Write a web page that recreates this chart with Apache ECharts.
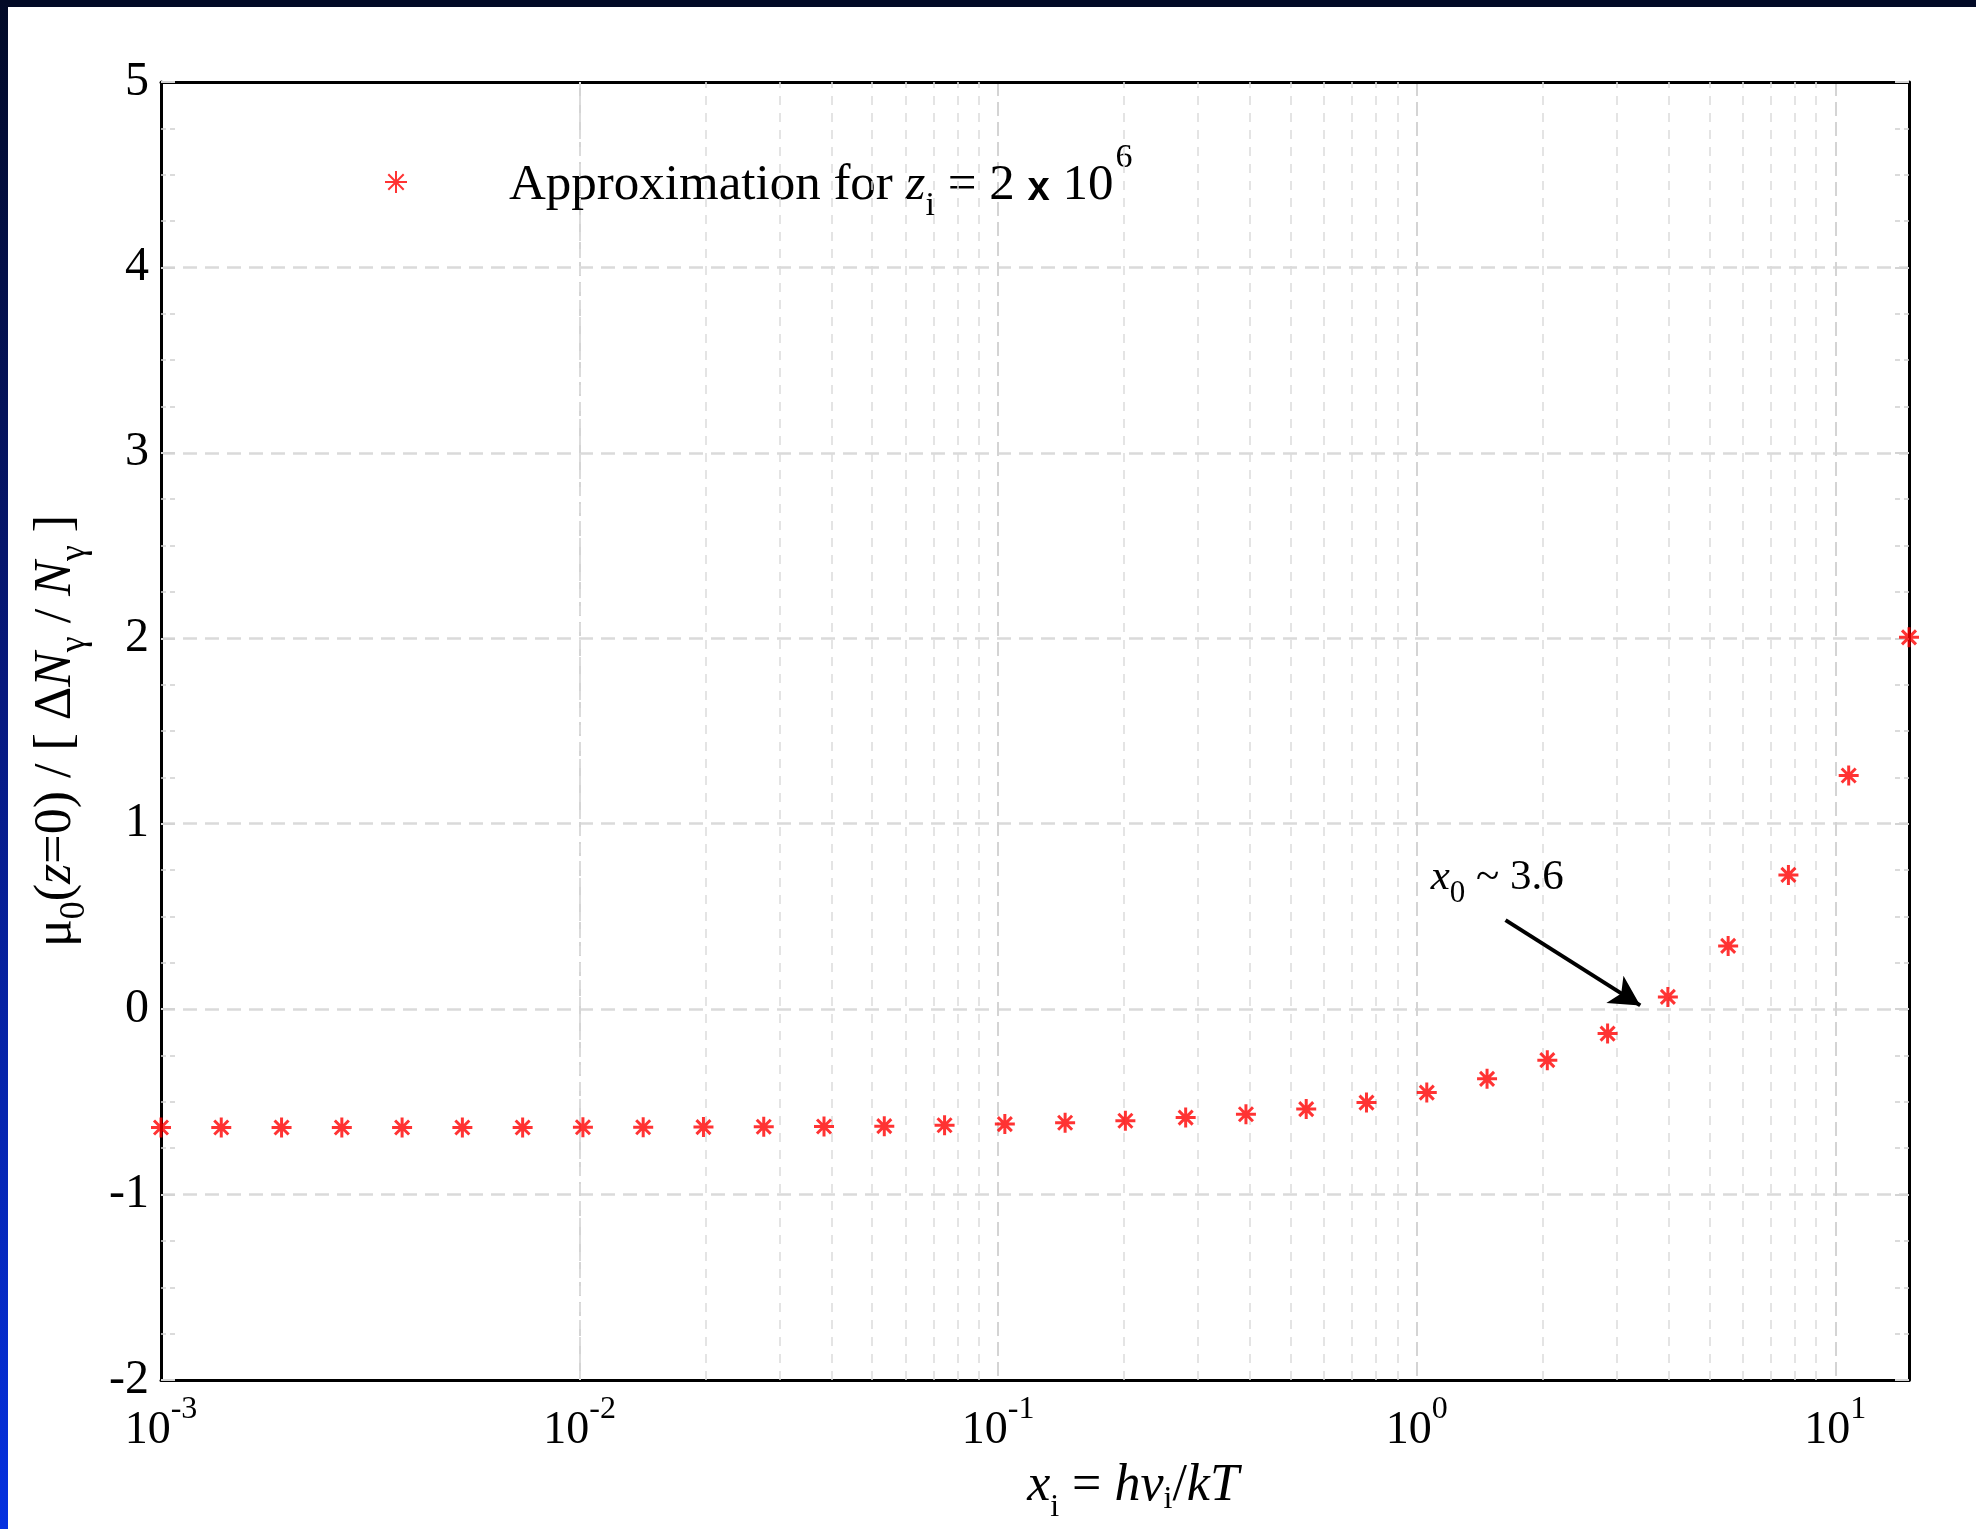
<!DOCTYPE html>
<html>
<head>
<meta charset="utf-8">
<script src="https://cdn.jsdelivr.net/npm/echarts@6/dist/echarts.min.js"></script>
<style>
  html, body { margin: 0; padding: 0; background: #ffffff; }
  #chart { position: absolute; left: 0; top: 0; width: 1976px; height: 1529px; }
  .band-top { position: absolute; left: 0; top: 0; width: 1976px; height: 7px; background: #020a26; }
  .band-left { position: absolute; left: 0; top: 0; width: 8px; height: 1529px;
               background: linear-gradient(#020a26, #07197e 45%, #0531e0); }
</style>
</head>
<body>
<div id="chart"></div>
<div class="band-top"></div>
<div class="band-left"></div>
<script>
// Initial photon frequency x_i = h nu_i / kT (log-spaced samples)
const xInitial = [
  0.001, 0.001393, 0.001941, 0.002704, 0.003767, 0.005248, 0.007311, 0.010186,
  0.01419, 0.019769, 0.027542, 0.03837, 0.053455, 0.074471, 0.10375, 0.14454,
  0.20137, 0.28054, 0.39084, 0.5445, 0.75857, 1.0569, 1.4724, 2.0512,
  2.8576, 3.9812, 5.5464, 7.727, 10.765, 15.0
];
// Residual chemical potential per injected photon number
const muRatio = [
  -0.638, -0.638, -0.638, -0.638, -0.638, -0.638, -0.638, -0.637,
  -0.637, -0.636, -0.634, -0.633, -0.631, -0.626, -0.620, -0.613,
  -0.602, -0.585, -0.567, -0.539, -0.504, -0.450, -0.376, -0.275,
  -0.132, 0.066, 0.341, 0.724, 1.26, 2.005
];
// Minor grid positions of the logarithmic x axis
const xMinorGrid = [
  0.002, 0.003, 0.004, 0.005, 0.006, 0.007, 0.008, 0.009,
  0.02, 0.03, 0.04, 0.05, 0.06, 0.07, 0.08, 0.09,
  0.2, 0.3, 0.4, 0.5, 0.6, 0.7, 0.8, 0.9,
  2, 3, 4, 5, 6, 7, 8, 9
];
// Zero-crossing annotation: label anchor, arrow tail and arrow head
const crossingLabelAt = [1.077, 0.68];
const crossingArrow = [[1.63, 0.48], [3.42, 0.02]];

const seriesName = 'Approximation for z_i = 2 x 10^6';
const asterisk = 'path://M10,0L10,20M0,10L20,10M3,3L17,17M3,17L17,3';
const serif = '"Liberation Serif", "DejaVu Serif", serif';

const chart = echarts.init(document.getElementById('chart'), null, { renderer: 'canvas' });

const frameLine = { show: true, onZero: false, lineStyle: { color: '#000', width: 3 } };

const option = {
  animation: false,
  backgroundColor: '#ffffff',
  grid: {
    left: 161, top: 82, right: 67, bottom: 149,
    show: false
  },
  legend: {
    left: 379, top: 136,
    itemWidth: 22, itemHeight: 22,
    data: [{ name: seriesName, icon: asterisk }],
    formatter: () => '{a0|Approximation for }{z|z}{sub|i}{a| = 2 }{x|x}{a| 10}{sup|6}',
    textStyle: {
      color: '#000',
      rich: {
        a0: { fontFamily: serif, fontSize: 51, color: '#000', verticalAlign: 'bottom', padding: [0, 0, 12, 97] },
        a: { fontFamily: serif, fontSize: 51, color: '#000', verticalAlign: 'bottom', padding: [0, 0, 12, 0] },
        x: { fontFamily: '"Liberation Sans", sans-serif', fontWeight: 'bold', fontSize: 40, color: '#000', verticalAlign: 'bottom', padding: [0, 0, 14, 0] },
        z: { fontFamily: serif, fontStyle: 'italic', fontSize: 51, color: '#000', verticalAlign: 'bottom', padding: [0, 0, 12, 0] },
        sub: { fontFamily: serif, fontSize: 34, color: '#000', verticalAlign: 'bottom', padding: [0, 0, 0, 0] },
        sup: { fontFamily: serif, fontSize: 34, color: '#000', verticalAlign: 'bottom', padding: [0, 0, 48, 2] }
      }
    }
  },
  xAxis: [{
    type: 'log', logBase: 10, min: 0.001, max: 15,
    axisLine: frameLine,
    axisTick: { show: false },
    axisLabel: {
      margin: 14,
      showMaxLabel: false,
      formatter: (v) => {
        const e = Math.log10(v);
        const r = Math.round(e);
        if (Math.abs(e - r) > 1e-6) return '';
        return '{b|10}{s|' + r + '}';
      },
      rich: {
        b: { fontFamily: serif, fontSize: 46, color: '#000', verticalAlign: 'bottom', padding: [0, 0, 0, 0] },
        s: { fontFamily: serif, fontSize: 32, color: '#000', verticalAlign: 'bottom', padding: [0, 0, 28, 0] }
      }
    },
    splitLine: { show: true, lineStyle: { color: '#d4d4d4', width: 2, type: [14, 6] } },
    name: '{it|x}{sub|i}{rm| = }{it|hν}{sub2|i}{rm|/}{it|kT}',
    nameLocation: 'middle',
    nameGap: 80,
    nameTextStyle: {
      padding: [0, 0, 0, 196],
      rich: {
        it: { fontFamily: serif, fontStyle: 'italic', fontSize: 52, color: '#000', verticalAlign: 'bottom', padding: [0, 0, 12, 0] },
        rm: { fontFamily: serif, fontSize: 52, color: '#000', verticalAlign: 'bottom', padding: [0, 0, 12, 0] },
        sub: { fontFamily: serif, fontSize: 32, color: '#000', verticalAlign: 'bottom', padding: [0, 0, 0, 0] },
        sub2: { fontFamily: serif, fontSize: 32, color: '#000', verticalAlign: 'bottom', padding: [0, 0, 8, 0] }
      }
    }
  }, {
    type: 'log', logBase: 10, min: 0.001, max: 15, position: 'top',
    axisLine: frameLine,
    axisTick: { show: false },
    axisLabel: { show: false },
    splitLine: { show: false }
  }],
  yAxis: [{
    type: 'value', min: -2, max: 5, interval: 1,
    axisLine: frameLine,
    axisTick: { show: true, inside: true, length: 14, lineStyle: { color: '#d4d4d4', width: 2 } },
    minorTick: { show: true, splitNumber: 4, length: 14, lineStyle: { color: '#d0d0d0', width: 1.5, type: [5, 4] } },
    axisLabel: { margin: 12, fontFamily: serif, fontSize: 48, color: '#000', formatter: (v) => String(v) },
    splitLine: { show: true, lineStyle: { color: '#dadada', width: 2.5, type: [14, 8] } },
    name: '{m|μ}{sub|0}{m|(}{i|z}{m|=0) / [ Δ}{i|N}{sub|γ}{m| / }{i|N}{sub|γ}{m| ]}',
    nameLocation: 'middle',
    nameGap: 68,
    nameTextStyle: {
      rich: {
        m: { fontFamily: serif, fontSize: 52, color: '#000', verticalAlign: 'bottom', padding: [0, 0, 11, 0] },
        i: { fontFamily: serif, fontStyle: 'italic', fontSize: 52, color: '#000', verticalAlign: 'bottom', padding: [0, 0, 11, 0] },
        sub: { fontFamily: serif, fontSize: 36, color: '#000', verticalAlign: 'bottom', padding: [0, 0, 0, 0] }
      }
    }
  }, {
    type: 'value', min: -2, max: 5, interval: 1, position: 'right',
    axisLine: frameLine,
    axisTick: { show: true, inside: true, length: 14, lineStyle: { color: '#d4d4d4', width: 2 } },
    minorTick: { show: true, splitNumber: 4, length: 14, lineStyle: { color: '#d0d0d0', width: 1.5, type: [5, 4] } },
    axisLabel: { show: false },
    splitLine: { show: false }
  }],
  series: [{
    name: seriesName,
    type: 'scatter',
    clip: false,
    z: 5,
    data: xInitial.map((x, i) => [x, muRatio[i]]),
    symbol: asterisk,
    symbolSize: 20,
    itemStyle: { color: '#ff0000', borderColor: '#ff0000', borderWidth: 3 },
    markLine: {
      silent: true,
      symbol: 'none',
      label: { show: false },
      data: [
        ...xMinorGrid.map((v) => ({
          xAxis: v,
          lineStyle: { color: '#dcdcdc', width: 1.5, type: [9, 8] }
        })),
        [
          { coord: crossingArrow[0], symbol: 'none' },
          { coord: crossingArrow[1], symbol: 'arrow', symbolSize: [24, 30],
            lineStyle: { color: '#000', width: 4, type: 'solid' } }
        ]
      ],
      lineStyle: { color: '#000', width: 4, type: 'solid' }
    },
    markPoint: {
      silent: true,
      symbol: 'circle',
      symbolSize: 1,
      itemStyle: { color: 'rgba(0,0,0,0)' },
      data: [{
        coord: crossingLabelAt,
        label: {
          show: true,
          position: 'right',
          distance: 0,
          formatter: '{i|x}{sub|0}{m| ~ 3.6}',
          rich: {
            i: { fontFamily: serif, fontStyle: 'italic', fontSize: 43, color: '#000', verticalAlign: 'bottom', padding: [0, 0, 10, 0] },
            m: { fontFamily: serif, fontSize: 43, color: '#000', verticalAlign: 'bottom', padding: [0, 0, 10, 0] },
            sub: { fontFamily: serif, fontSize: 31, color: '#000', verticalAlign: 'bottom', padding: [0, 0, 0, 0] }
          }
        }
      }]
    }
  }]
};

chart.setOption(option);
</script>
</body>
</html>
